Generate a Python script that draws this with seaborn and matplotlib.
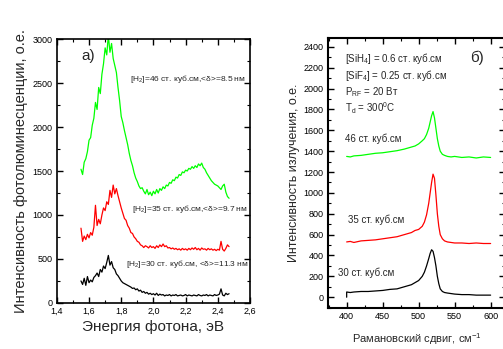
import numpy as np
import pandas as pd
import matplotlib
matplotlib.use("Agg")
import matplotlib.pyplot as plt
from matplotlib.ticker import MultipleLocator
import seaborn as sns

# --- a) photoluminescence spectra -------------------------------------------
energy = np.round(np.linspace(1.55, 2.47, 93), 2)

pl_46 = [1520, 1460, 1600, 1640, 1720, 1850, 1880, 2020, 2100, 2280,
         2200, 2450, 2380, 2600, 2720, 2900, 2820, 3040, 2850, 2950,
         2780, 2700, 2620, 2450, 2300, 2120, 2050, 1960, 1880, 1800,
         1700, 1620, 1560, 1480, 1420, 1380, 1330, 1300, 1310, 1270,
         1240, 1290, 1230, 1260, 1220, 1270, 1240, 1290, 1250, 1300,
         1280, 1320, 1300, 1340, 1330, 1370, 1360, 1400, 1390, 1430,
         1420, 1460, 1450, 1490, 1480, 1510, 1500, 1530, 1520, 1550,
         1530, 1560, 1540, 1580, 1560, 1590, 1540, 1520, 1480, 1450,
         1420, 1390, 1370, 1350, 1340, 1330, 1310, 1290, 1330, 1350,
         1260, 1210, 1190]

pl_35 = [850, 700, 760, 720, 780, 740, 800, 770, 860, 1110,
         880, 950, 900, 1000, 1080, 1050, 1150, 1120, 1280, 1200,
         1340, 1240, 1300, 1220, 1150, 1080, 1020, 960, 940, 880,
         850, 800, 790, 750, 730, 700, 690, 660, 650, 630,
         650, 640, 625, 650, 630, 640, 620, 650, 630, 660,
         640, 670, 640, 650, 625, 630, 615, 625, 610, 620,
         605, 615, 600, 620, 605, 615, 600, 620, 605, 625,
         610, 630, 605, 620, 600, 625, 610, 615, 600, 620,
         605, 615, 600, 610, 595, 610, 600, 700, 610, 590,
         620, 660, 640]

pl_30 = [250, 210, 280, 200, 300, 230, 260, 240, 290, 310,
         340, 300, 380, 350, 420, 390, 460, 540, 430, 470,
         400, 380, 330, 310, 280, 250, 230, 220, 210, 200,
         190, 180, 165, 170, 150, 160, 135, 145, 120, 130,
         110, 120, 100, 110, 95, 105, 90, 110, 85, 100,
         90, 95, 80, 90, 85, 95, 80, 90, 85, 95,
         80, 85, 90, 80, 85, 95, 80, 90, 85, 80,
         90, 85, 80, 95, 85, 80, 90, 85, 95, 80,
         90, 85, 80, 95, 85, 90, 100, 160, 90, 80,
         110, 95, 105]

pl_ticks = [1.4, 1.6, 1.8, 2.0, 2.2, 2.4, 2.6]
pl_ticklabels = ["1,4", "1,6", "1,8", "2,0", "2,2", "2,4", "2,6"]

# --- б) Raman spectra -------------------------------------------------------
shift = [400, 405, 410, 420, 430, 440, 450, 460, 470, 480, 490, 495, 500,
         505, 508, 511, 514, 516, 518, 520, 522, 524, 526, 528, 530, 533,
         536, 540, 545, 550, 560, 570, 580, 590, 600]

raman_46 = [1350, 1345, 1355, 1360, 1370, 1380, 1385, 1395, 1405, 1420,
            1440, 1450, 1470, 1500, 1520, 1560, 1620, 1680, 1740, 1780,
            1720, 1620, 1520, 1450, 1400, 1370, 1360, 1350, 1345, 1350,
            1340, 1345, 1335, 1345, 1340]

raman_35 = [530, 535, 525, 540, 545, 550, 560, 570, 580, 600,
            620, 640, 650, 680, 720, 790, 900, 1000, 1100, 1180,
            1140, 980, 800, 680, 600, 560, 540, 530, 525, 520,
            520, 515, 520, 515, 515]

raman_30 = [50, 45, 50, 55, 55, 60, 65, 75, 80, 100,
            120, 140, 160, 200, 240, 300, 370, 420, 455, 440,
            380, 300, 200, 130, 80, 55, 45, 40, 35, 30,
            25, 25, 20, 20, 20]

flows = ["46", "35", "30"]
colors = {"46": "#00ff00", "35": "#ff0000", "30": "#000000"}

pl_df = pd.concat([
    pd.DataFrame({"energy": energy, "intensity": vals, "flow": fl})
    for fl, vals in zip(flows, [pl_46, pl_35, pl_30])
], ignore_index=True)

raman_df = pd.concat([
    pd.DataFrame({"shift": shift, "intensity": vals, "flow": fl})
    for fl, vals in zip(flows, [raman_46, raman_35, raman_30])
], ignore_index=True)
# the black spectrum starts with a jump up from zero
raman_df = pd.concat([
    pd.DataFrame({"shift": [400], "intensity": [0], "flow": ["30"]}),
    raman_df,
], ignore_index=True)

sns.set_style("ticks")
plt.rcParams["font.family"] = ["Liberation Sans", "DejaVu Sans"]
plt.rcParams["mathtext.fontset"] = "custom"
plt.rcParams["mathtext.rm"] = "Liberation Sans"
plt.rcParams["mathtext.it"] = "Liberation Sans:italic"

fig = plt.figure(figsize=(5.03, 3.49), dpi=100)
ax1 = fig.add_axes([0.113, 0.132, 0.384, 0.756])
ax2 = fig.add_axes([0.652, 0.117, 0.352, 0.774])

sns.lineplot(data=pl_df, x="energy", y="intensity", hue="flow", palette=colors,
             estimator=None, sort=False, linewidth=0.9, legend=False, ax=ax1)
sns.lineplot(data=raman_df, x="shift", y="intensity", hue="flow", palette=colors,
             estimator=None, sort=False, linewidth=0.9, legend=False, ax=ax2)

# panel a)
ax1.set_xlim(1.4, 2.6)
ax1.set_ylim(0, 3000)
ax1.set_xticks(pl_ticks)
ax1.set_xticklabels(pl_ticklabels)
ax1.xaxis.set_minor_locator(MultipleLocator(0.1))
ax1.yaxis.set_major_locator(MultipleLocator(500))
ax1.yaxis.set_minor_locator(MultipleLocator(250))
ax1.set_xlabel("Энергия фотона, эВ", fontsize=11)
ax1.set_ylabel("Интенсивность фотолюминесценции, о.е.", fontsize=10.5)
ax1.xaxis.set_label_coords(0.5, -0.065)
ax1.yaxis.set_label_coords(-0.15, 0.5)
ax1.text(1.555, 2760, "а)", fontsize=11)
ann_kw = dict(fontsize=6, clip_on=False)
ax1.text(1.855, 2520, r"[H$_2$]=46 ст. куб.см,<δ>=8.5 нм", **ann_kw)
ax1.text(1.87, 1040, r"[H$_2$]=35 ст. куб.см,<δ>=9.7 нм", **ann_kw)
ax1.text(1.83, 420, r"[H$_2$]=30 ст. куб.см, <δ>=11.3 нм", **ann_kw)

# panel б)
ax2.set_xlim(374, 620)
ax2.set_ylim(-105, 2485)
ax2.xaxis.set_major_locator(MultipleLocator(50))
ax2.xaxis.set_minor_locator(MultipleLocator(25))
ax2.yaxis.set_major_locator(MultipleLocator(200))
ax2.yaxis.set_minor_locator(MultipleLocator(100))
ax2.set_xlabel(r"Рамановский сдвиг, см$^{-1}$", fontsize=8)
ax2.set_ylabel("Интенсивность излучения, о.е.", fontsize=9)
ax2.xaxis.set_label_coords(0.5, -0.085)
ax2.yaxis.set_label_coords(-0.16, 0.5)
ax2.text(571, 2255, "б)", fontsize=11)
rk = dict(fontsize=7)
ax2.text(397, 2255, r"[SiH$_4$] = 0.6 ст. куб.см", **rk)
ax2.text(397, 2092, r"[SiF$_4$] = 0.25 ст. куб.см", **rk)
ax2.text(397, 1938, r"P$_\mathrm{RF}$ = 20 Вт", **rk)
ax2.text(397, 1775, r"T$_\mathrm{d}$ = 300$^0$C", **rk)
ax2.text(397, 1487, "46 ст. куб.см", **rk)
ax2.text(402, 710, "35 ст. куб.см", **rk)
ax2.text(388, 200, "30 ст. куб.см", **rk)

for ax, lw in [(ax1, 1.2), (ax2, 1.5)]:
    for sp in ax.spines.values():
        sp.set_visible(True)
        sp.set_linewidth(lw)
        sp.set_color("black")
    ax.tick_params(which="both", direction="in", top=True, right=True,
                   labelsize=6.5, colors="black", pad=3)
    ax.tick_params(which="major", length=4, width=1)
    ax.tick_params(which="minor", length=2, width=0.8)

fig.savefig("out.png", dpi=100)
